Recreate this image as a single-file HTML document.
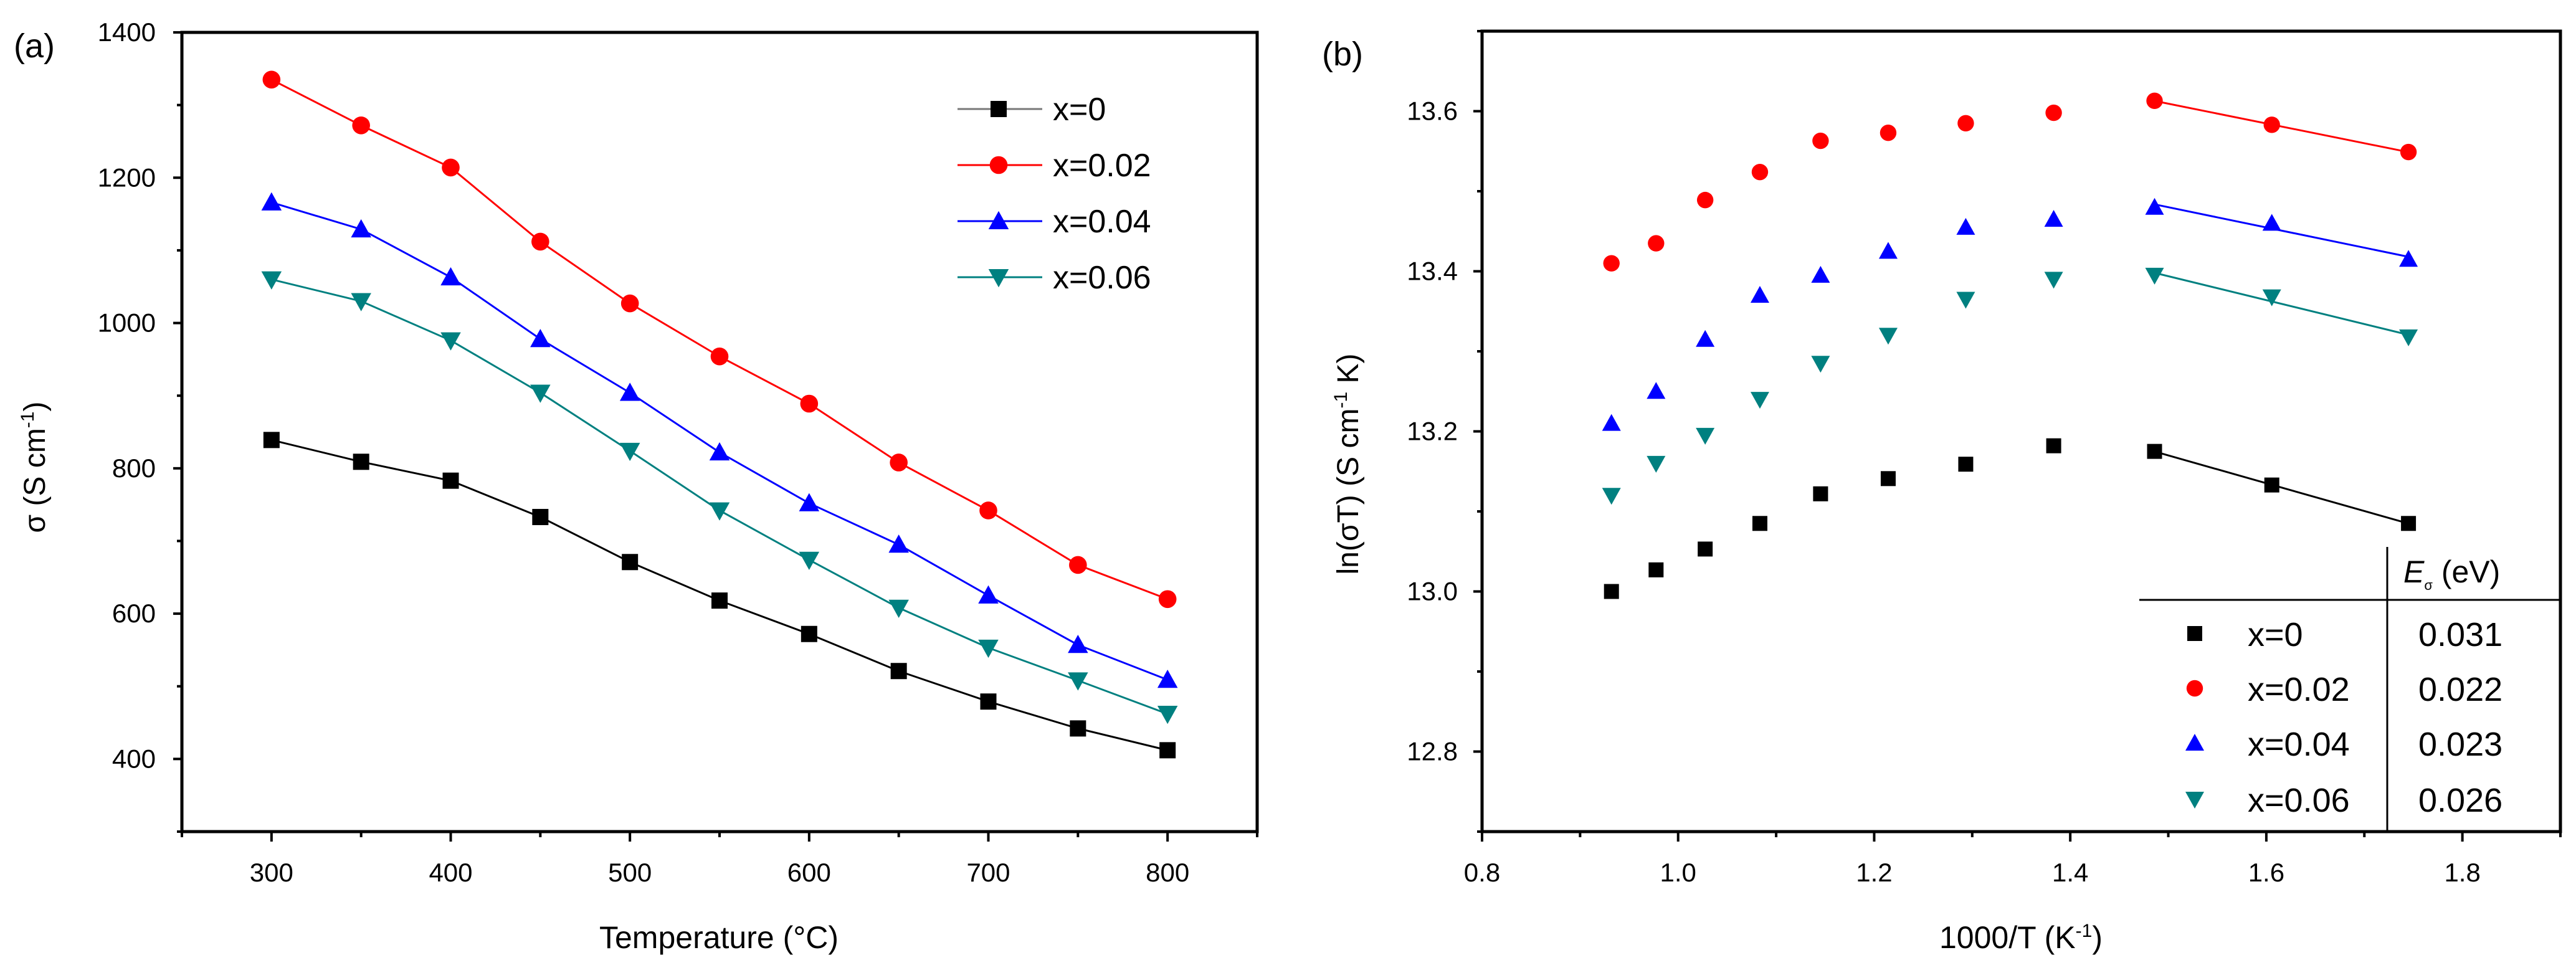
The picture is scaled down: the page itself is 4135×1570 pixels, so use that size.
<!DOCTYPE html>
<html><head><meta charset="utf-8"><style>
html,body{margin:0;padding:0;background:#fff;}
svg{display:block;font-family:"Liberation Sans",Arial,sans-serif;}
</style></head><body>
<svg id="chart" width="4135" height="1570" viewBox="0 0 4135 1570">
<g id="pa"></g>
<g id="pb"></g>
</svg>
<script>
const tempsA = [300,350,400,450,500,550,600,650,700,750,800];
const seriesNames = ["x=0","x=0.02","x=0.04","x=0.06"];
const sigma0 = [839,809,783,733,671,618,572,521,479,442,412];
const sigma2 = [1335,1272,1214,1112,1027,954,889,808,742,667,620];
const sigma4 = [1166,1129,1063,978,904,822,752,695,625,557,509];
const sigma6 = [1060,1030,976,904,824,742,674,608,553,508,462];
const invT = [0.932,0.9775,1.0276,1.0834,1.1453,1.2143,1.2934,1.3831,1.486,1.6056,1.745];
const lnST0 = [13.0,13.027,13.053,13.085,13.122,13.141,13.159,13.182,13.175,13.133,13.085];
const lnST2 = [13.410,13.435,13.489,13.524,13.563,13.573,13.585,13.598,13.613,13.583,13.549];
const lnST4 = [13.21,13.25,13.315,13.37,13.395,13.425,13.455,13.465,13.48,13.46,13.415];
const lnST6 = [13.12,13.16,13.195,13.24,13.285,13.32,13.365,13.39,13.395,13.368,13.318];
const energies = ["0.031","0.022","0.023","0.026"];
const xTicksA = [300,400,500,600,700,800];
const yTicksA = [400,600,800,1000,1200,1400];
const xTicksB = [0.8,1.0,1.2,1.4,1.6,1.8];
const yTicksB = [12.8,13.0,13.2,13.4,13.6];

const NS="http://www.w3.org/2000/svg";
const colors=["#000000","#ff0000","#0000ff","#008080"];
const shapes=["square","circle","up","down"];
function mk(parent,tag,attrs,text){const e=document.createElementNS(NS,tag);for(const k in attrs)e.setAttribute(k,attrs[k]);if(text!==undefined)e.textContent=text;parent.appendChild(e);return e;}
function marker(g,shape,cx,cy,s,col){
  let e;
  if(shape==="square") e=mk(g,"rect",{x:cx-s,y:cy-s,width:2*s,height:2*s,fill:col});
  else if(shape==="circle") e=mk(g,"circle",{cx:cx,cy:cy,r:s*1.1,fill:col});
  else if(shape==="up") e=mk(g,"polygon",{points:`${cx},${cy-s*1.25} ${cx-s*1.25},${cy+s} ${cx+s*1.25},${cy+s}`,fill:col});
  else e=mk(g,"polygon",{points:`${cx},${cy+s*1.25} ${cx-s*1.25},${cy-s} ${cx+s*1.25},${cy-s}`,fill:col});
  return e;
}
// Panel A
const A={L:292,R:2018,T:52,B:1335,x0:250,x1:850,y0:300,y1:1400};
const xA=v=>A.L+(v-A.x0)/(A.x1-A.x0)*(A.R-A.L);
const yA=v=>A.B-(v-A.y0)/(A.y1-A.y0)*(A.B-A.T);
const pa=document.getElementById("pa");
const dataA=[sigma0,sigma2,sigma4,sigma6];
dataA.forEach((ser,i)=>{
  const g=mk(pa,"g",{});
  
  
  const pl=mk(g,"polyline",{points:ser.map((v,j)=>xA(tempsA[j])+","+yA(v)).join(" "),fill:"none",stroke:colors[i],"stroke-width":3});
  
  
  ser.forEach((v,j)=>{const m=marker(g,shapes[i],xA(tempsA[j]),yA(v),13,colors[i]);
    
    });
});
function frame(p,P,name){
  const r=mk(p,"rect",{x:P.L,y:P.T,width:P.R-P.L,height:P.B-P.T,fill:"none",stroke:"#000","stroke-width":5});
  
  
}
frame(pa,A,'plot-frame-a');
for(let v=300;v<=1400;v+=100){const y=yA(v);const major=v%200===0;
  const t=mk(pa,"line",{x1:A.L,x2:A.L-(major?14:8),y1:y,y2:y,stroke:"#000","stroke-width":4});
  
  }
for(let v=250;v<=850;v+=50){const x=xA(v);const major=v%100===0;
  const t=mk(pa,"line",{x1:x,x2:x,y1:A.B,y2:A.B+(major?16:9),stroke:"#000","stroke-width":4});
  
  }
yTicksA.forEach(v=>{const t=mk(pa,"text",{x:250,y:yA(v)+14,"font-size":42,"text-anchor":"end"},String(v));
  
  });
xTicksA.forEach(v=>{const t=mk(pa,"text",{x:xA(v),y:1415,"font-size":42,"text-anchor":"middle"},String(v));
  
  });
let t=mk(pa,"text",{x:1154,y:1522,"font-size":50,"text-anchor":"middle"},"Temperature (°C)");


t=mk(pa,"text",{transform:"translate(72,750) rotate(-90)","font-size":48,"text-anchor":"middle"});
t.innerHTML='σ (S cm<tspan dy="-18" font-size="30">-1</tspan><tspan dy="18">)</tspan>';


t=mk(pa,"text",{x:22,y:92,"font-size":54},"(a)");


const legY=[175,265,355,445];
seriesNames.forEach((n,i)=>{
  const g=mk(pa,"g",{});
  
  
  mk(g,"line",{x1:1537,x2:1673,y1:legY[i],y2:legY[i],stroke:i===0?"#777":colors[i],"stroke-width":3});
  marker(g,shapes[i],1603,legY[i],13,colors[i]);
  mk(g,"text",{x:1690,y:legY[i]+18,"font-size":52},n);
});
// Panel B
const B={L:2379,R:4110,T:50,B:1335,x0:0.8,x1:1.9,y0:12.7,y1:13.7};
const xB=v=>B.L+(v-B.x0)/(B.x1-B.x0)*(B.R-B.L);
const yB=v=>B.B-(v-B.y0)/(B.y1-B.y0)*(B.B-B.T);
const pb=document.getElementById("pb");
const dataB=[lnST0,lnST2,lnST4,lnST6];
dataB.forEach((ser,i)=>{
  const g=mk(pb,"g",{});
  
  
  // linear fit over last three points
  const xs=invT.slice(8),ys=ser.slice(8);
  const mx=xs.reduce((a,b)=>a+b)/3,my=ys.reduce((a,b)=>a+b)/3;
  let sxy=0,sxx=0;xs.forEach((x,k)=>{sxy+=(x-mx)*(ys[k]-my);sxx+=(x-mx)*(x-mx);});
  const sl=sxy/sxx,ic=my-sl*mx;
  const fl=mk(g,"line",{x1:xB(xs[0]),y1:yB(ic+sl*xs[0]),x2:xB(xs[2]),y2:yB(ic+sl*xs[2]),stroke:colors[i],"stroke-width":3});
  
  
  ser.forEach((v,j)=>{const m=marker(g,shapes[i],xB(invT[j]),yB(v),12,colors[i]);
    
    });
});
frame(pb,B,'plot-frame-b');
for(let k=0;k<=10;k++){const v=12.7+k*0.1;const y=yB(v);const major=k%2===1;
  const tk=mk(pb,"line",{x1:B.L,x2:B.L-(major?14:8),y1:y,y2:y,stroke:"#000","stroke-width":4});
  
  }
for(let k=0;k<=11;k++){const v=0.8+k*0.1;const x=xB(v);const major=k%2===0;
  const tk=mk(pb,"line",{x1:x,x2:x,y1:B.B,y2:B.B+(major?16:9),stroke:"#000","stroke-width":4});
  
  }
yTicksB.forEach(v=>{const tt=mk(pb,"text",{x:2340,y:yB(v)+14,"font-size":42,"text-anchor":"end"},v.toFixed(1));
  
  });
xTicksB.forEach(v=>{const tt=mk(pb,"text",{x:xB(v),y:1415,"font-size":42,"text-anchor":"middle"},v.toFixed(1));
  
  });
t=mk(pb,"text",{x:3244,y:1522,"font-size":50,"text-anchor":"middle"});
t.innerHTML='1000/T (K<tspan dy="-18" font-size="30">-1</tspan><tspan dy="18">)</tspan>';


t=mk(pb,"text",{transform:"translate(2180,745) rotate(-90)","font-size":48,"text-anchor":"middle"});
t.innerHTML='ln(σT) (S cm<tspan dy="-18" font-size="30">-1</tspan><tspan dy="18"> K)</tspan>';


t=mk(pb,"text",{x:2122,y:105,"font-size":54},"(b)");


// Table legend
const tb=mk(pb,"g",{});


mk(tb,"line",{x1:3832,x2:3832,y1:878,y2:1335,stroke:"#000","stroke-width":3});
mk(tb,"line",{x1:3434,x2:4110,y1:963,y2:963,stroke:"#000","stroke-width":3});
t=mk(tb,"text",{x:3858,y:935,"font-size":50});
t.innerHTML='<tspan font-style="italic">E</tspan><tspan font-size="22" dy="12">σ</tspan><tspan dy="-12"> (eV)</tspan>';


const rowY=[1017,1105,1193,1283];
seriesNames.forEach((n,i)=>{
  const g=mk(tb,"g",{});
  
  
  marker(g,shapes[i],3523,rowY[i],12,colors[i]);
  mk(g,"text",{x:3608,y:rowY[i]+20,"font-size":54},n);
  mk(g,"text",{x:3882,y:rowY[i]+20,"font-size":54},energies[i]);
});
</script>
</body></html>
